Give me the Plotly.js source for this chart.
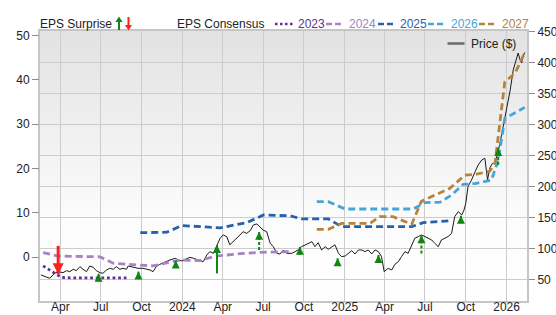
<!DOCTYPE html>
<html><head><meta charset="utf-8">
<script src="https://cdn.plot.ly/plotly-3.0.1.min.js"></script>
<style>html,body{margin:0;padding:0;background:#fff;} #chart{width:556px;height:315px;}</style>
</head><body><div id="chart"></div>
<script>
// ---------- DATA ----------
const priceDates = ['2023-02-16','2023-02-25','2023-03-08','2023-03-19','2023-03-27','2023-04-07','2023-04-15','2023-04-22','2023-04-30','2023-05-07','2023-05-15','2023-05-22','2023-05-30','2023-06-06','2023-06-14','2023-06-21','2023-06-29','2023-07-06','2023-07-14','2023-07-21','2023-07-29','2023-08-05','2023-08-13','2023-08-20','2023-08-28','2023-09-01','2023-09-12','2023-09-23','2023-10-04','2023-10-12','2023-10-20','2023-10-27','2023-11-03','2023-11-11','2023-11-19','2023-11-23','2023-12-04','2023-12-16','2023-12-23','2023-12-31',
'2024-01-07','2024-01-18','2024-01-26','2024-02-02','2024-02-10','2024-02-17','2024-02-25','2024-03-03','2024-03-11','2024-03-19','2024-03-26','2024-04-02','2024-04-10','2024-04-17','2024-04-25','2024-05-03','2024-05-10','2024-05-17','2024-05-25','2024-06-02','2024-06-09','2024-06-17','2024-06-24','2024-07-01','2024-07-09','2024-07-17','2024-07-24','2024-08-01','2024-08-08','2024-08-16','2024-08-23','2024-09-04','2024-09-11','2024-09-18','2024-09-26','2024-10-04','2024-10-11','2024-10-19','2024-10-26','2024-11-02','2024-11-10','2024-11-18','2024-11-25','2024-12-03','2024-12-10','2024-12-18','2024-12-25',
'2025-01-02','2025-01-09','2025-01-17','2025-01-24','2025-02-01','2025-02-08','2025-02-16','2025-02-23','2025-03-03','2025-03-10','2025-03-18','2025-03-25','2025-03-31','2025-04-09','2025-04-17','2025-04-24','2025-05-02','2025-05-09','2025-05-17','2025-05-24','2025-06-01','2025-06-08','2025-06-16','2025-06-23','2025-07-01','2025-07-08','2025-07-16','2025-07-23','2025-07-31','2025-08-07','2025-08-15','2025-08-22','2025-08-30','2025-09-06','2025-09-14','2025-09-22','2025-09-27','2025-10-01','2025-10-06','2025-10-14','2025-10-22','2025-10-29','2025-11-06','2025-11-13','2025-11-19','2025-11-24','2025-11-30','2025-12-06','2025-12-17','2025-12-28',
'2026-01-09','2026-01-16','2026-01-24','2026-01-27','2026-01-31','2026-02-04','2026-02-07','2026-02-11'];
const priceValues = [58.1,55.3,52.7,60.8,63.4,61.8,65,63.4,67.2,65,71.5,67.2,63.4,72.5,70.4,65,61.8,60.8,66.1,68.8,67.2,71.5,67.2,68.8,67.2,72.5,70.4,68.8,68.8,67.2,66.1,63.4,71.5,75.1,77.9,78.9,82.2,84.9,82.2,80.6,
83.3,86.5,84.9,83.3,80.9,79.4,90.2,95.6,92.9,106.6,117.1,122.4,119.8,106.6,111.6,117.1,122.4,127.7,125,129.4,138.5,140.1,135.8,130.4,127.7,109.1,103.6,92.9,91.8,98.3,92.9,92.9,95.6,98.3,103.6,106.6,109.1,111.6,103.6,110,98.3,103.6,99.4,103.6,106.6,92.9,87.5,
88.6,92.9,97.2,91.8,98.3,98.3,95.6,98.3,91.8,98.3,95.6,87.5,63.4,68.8,66.1,75.1,79.4,87.5,95.6,92.9,106.6,117.1,119.8,122.4,119.8,117.1,114.4,109.1,103.6,114.4,117.1,119.8,125,151.8,159.9,154.6,162.6,173.4,200.2,210.9,224.3,235.1,243,245.8,210.9,229.7,237.7,237,270,310,
355,388,409,415,405,399,410,416];

const eps2023Dates = ['2023-02-21','2023-04-03','2023-04-23','2023-08-28'];
const eps2023Values = [-2.0,-4.6,-4.7,-4.7];
const eps2024Dates = ['2023-02-21','2023-03-27','2023-06-29','2023-07-29','2023-09-23','2023-10-27','2023-11-19','2023-12-12','2023-12-27','2024-02-10','2024-03-15','2024-05-17','2024-06-24','2024-08-31'];
const eps2024Values = [1.0,0.2,0.05,-1.4,-1.8,-2.0,-1.5,-1.05,-0.7,-0.8,0.2,0.8,1.05,1.2];
const eps2025Dates = ['2023-09-28','2023-11-27','2023-12-31','2024-03-26','2024-05-25','2024-07-02','2024-08-31','2024-09-26','2024-11-25','2024-12-25','2025-06-01','2025-06-27','2025-08-26'];
const eps2025Values = [5.5,5.6,7.1,6.6,7.75,9.5,9.3,8.6,8.6,6.85,6.85,7.75,8.2];
const eps2026Dates = ['2024-10-30','2024-11-25','2025-01-02','2025-06-05','2025-07-01','2025-08-04','2025-08-30','2025-09-25','2025-10-22','2025-11-28','2025-12-13','2025-12-28','2026-02-11'];
const eps2026Values = [12.5,12.5,10.85,10.85,12.3,12.4,14.0,16.4,16.6,17.4,21.9,31.3,33.8];
const eps2027Dates = ['2024-10-30','2024-11-25','2024-12-25','2025-02-27','2025-03-21','2025-04-20','2025-06-01','2025-06-23','2025-08-26','2025-09-29','2025-10-25','2025-11-24','2025-12-06','2025-12-28','2026-01-20','2026-02-11'];
const eps2027Values = [6.25,6.25,7.6,7.6,9.1,9.1,7.4,12.6,15.5,18.5,18.7,19.4,21.3,39.6,41.5,46.2];

const beatDates = ['2023-06-26','2023-09-24','2023-12-17','2024-03-19','2024-06-22','2024-09-22','2024-12-16','2025-03-18','2025-06-23','2025-09-20','2025-12-13'];
const beatFrom  = [-5.6,-5.0,-2.2,-3.7,1.6,0.45,-2.0,-1.3,0.8,7.6,20.8];
const beatTo    = [-3.8,-3.3,-0.8,2.7,5.7,2.3,-0.3,0.45,4.9,9.3,24.6];
const missDates = ['2023-03-27'];
const missFrom  = [2.5];
const missTo    = [-3.9];

const xTickVals = ['2023-04-01','2023-07-01','2023-10-01','2024-01-01','2024-04-01','2024-07-01','2024-10-01','2025-01-01','2025-04-01','2025-07-01','2025-10-01','2026-01-01'];
const xTickText = ['Apr','Jul','Oct','2024','Apr','Jul','Oct','2025','Apr','Jul','Oct','2026'];
const epsTicks = [0,10,20,30,40,50];
const priceTicks = [50,100,150,200,250,300,350,400,450];
const seriesNames = ['2023','2024','2025','2026','2027'];

// ---------- STYLE / LAYOUT ----------
const W=556,H=315,L=40,R=29,T=31,B=14;
const pw=W-L-R, ph=H-T-B;
const px=x=>(x-L)/pw, py=y=>(H-B-y)/ph;
const FONT='Liberation Sans, Arial, sans-serif';
const colors={'2023':'#5e3292','2024':'#a682c6','2025':'#2462ae','2026':'#44a6d8','2027':'#b5833b'};
const GREEN='#0f870f', RED='#ff1f1f';

const traces=[];
traces.push({type:'scatter',mode:'lines',x:priceDates,y:priceValues,yaxis:'y',
  line:{color:'#1a1a1a',width:1},hoverinfo:'skip'});
const epsSets=[[eps2023Dates,eps2023Values],[eps2024Dates,eps2024Values],[eps2025Dates,eps2025Values],[eps2026Dates,eps2026Values],[eps2027Dates,eps2027Values]];
epsSets.forEach((s,i)=>{
  const n=seriesNames[i];
  traces.push({type:'scatter',mode:'lines',x:s[0],y:s[1],yaxis:'y2',
    line:{color:colors[n],width:2.8,dash:(i===0?'2.8px,2.8px':'7px,4px')},hoverinfo:'skip'});
});
const dashedIdx=[0,4,8,9,10];
beatDates.forEach((d,i)=>{
  traces.push({type:'scatter',mode:'lines',x:[d,d],y:[beatFrom[i],beatTo[i]],yaxis:'y2',
    line:{color:GREEN,width:2,dash:dashedIdx.includes(i)?'3px,2px':'solid'},hoverinfo:'skip'});
});
traces.push({type:'scatter',mode:'markers',x:beatDates,y:beatTo,yaxis:'y2',
  marker:{symbol:'arrow-up',size:8,color:GREEN,line:{width:0}},hoverinfo:'skip'});
missDates.forEach((d,i)=>{
  traces.push({type:'scatter',mode:'lines',x:[d,d],y:[missFrom[i],missTo[i]],yaxis:'y2',
    line:{color:RED,width:3},hoverinfo:'skip'});
});
traces.push({type:'scatter',mode:'markers',x:missDates,y:missTo,yaxis:'y2',
  marker:{symbol:'arrow-down',size:11,color:RED,line:{width:0}},hoverinfo:'skip'});

const svg="<svg xmlns='http://www.w3.org/2000/svg' width='10' height='100' preserveAspectRatio='none'><defs><linearGradient id='g' x1='0' y1='0' x2='0' y2='1'><stop offset='0' stop-color='#e2e2e2'/><stop offset='0.7' stop-color='#fcfcfc'/><stop offset='1' stop-color='#ffffff'/></linearGradient></defs><rect width='10' height='100' fill='url(#g)'/></svg>";
const bgSrc='data:image/svg+xml;base64,'+btoa(svg);

const LY=24;
const ann=[];
const shapes=[];
function txt(x,y,t,c){ann.push({xref:'paper',yref:'paper',x:px(x),y:py(y),xanchor:'left',yanchor:'middle',text:t,showarrow:false,font:{family:FONT,size:12,color:c}});}
txt(38,LY,'EPS Surprise','#222');
txt(175,LY,'EPS Consensus','#222');
shapes.push({type:'line',xref:'paper',yref:'paper',x0:px(119),x1:px(119),y0:py(30),y1:py(21),line:{color:GREEN,width:2}});
shapes.push({type:'path',xref:'paper',yref:'paper',path:`M${px(115.5)},${py(22)} L${px(122.5)},${py(22)} L${px(119)},${py(16.5)} Z`,fillcolor:GREEN,line:{width:0}});
shapes.push({type:'line',xref:'paper',yref:'paper',x0:px(128.5),x1:px(128.5),y0:py(17),y1:py(26),line:{color:RED,width:2}});
shapes.push({type:'path',xref:'paper',yref:'paper',path:`M${px(125)},${py(25)} L${px(132)},${py(25)} L${px(128.5)},${py(30.5)} Z`,fillcolor:RED,line:{width:0}});
const legX=[[275,293,295.5],[326,341,347],[378,394,398],[428,445,449],[479,496,500]];
seriesNames.forEach((n,i)=>{
  const [a,b,t]=legX[i];
  shapes.push({type:'line',xref:'paper',yref:'paper',x0:px(a),x1:px(b),y0:py(LY),y1:py(LY),
    line:{color:colors[n],width:2.5,dash:(i===0?'2.5px,2.5px':'6px,3px')}});
  txt(t,LY,n,colors[n]);
});
shapes.push({type:'line',xref:'paper',yref:'paper',x0:px(447.5),x1:px(464.5),y0:py(43.5),y1:py(43.5),line:{color:'#6b6b6b',width:2.5}});
txt(469,43.5,'Price ($)','#222');

const tickfont={family:FONT,size:12,color:'#222'};
const layout={
  width:W,height:H,margin:{l:L,r:R,t:T,b:B,pad:0},
  paper_bgcolor:'#ffffff',plot_bgcolor:'#ffffff',showlegend:false,
  images:[{source:bgSrc,xref:'paper',yref:'paper',x:0,y:1,sizex:1,sizey:1,sizing:'stretch',xanchor:'left',yanchor:'top',layer:'below'}],
  xaxis:{type:'date',range:['2023-02-14','2026-02-16'],tickvals:xTickVals,ticktext:xTickText,
    showgrid:true,gridcolor:'#cccccc',gridwidth:1,showline:true,mirror:true,linecolor:'#c6c6c6',linewidth:2,
    ticks:'',ticklabelstandoff:-6,tickfont:tickfont,zeroline:false,fixedrange:true},
  yaxis:{side:'right',range:[16.2,450.5],tickvals:priceTicks,showgrid:true,gridcolor:'#cccccc',gridwidth:1,
    showline:true,mirror:true,linecolor:'#c6c6c6',linewidth:2,ticks:'outside',ticklen:6,tickcolor:'#8a8a8a',tickwidth:1,
    tickfont:tickfont,zeroline:false,fixedrange:true},
  yaxis2:{side:'left',overlaying:'y',range:[-9.94,51.06],tickvals:epsTicks,showgrid:false,showline:false,
    ticks:'outside',ticklen:7,tickcolor:'#8a8a8a',tickwidth:1,tickfont:tickfont,zeroline:false,fixedrange:true},
  annotations:ann,shapes:shapes
};
Plotly.newPlot('chart',traces,layout,{staticPlot:true,displayModeBar:false});
</script></body></html>
